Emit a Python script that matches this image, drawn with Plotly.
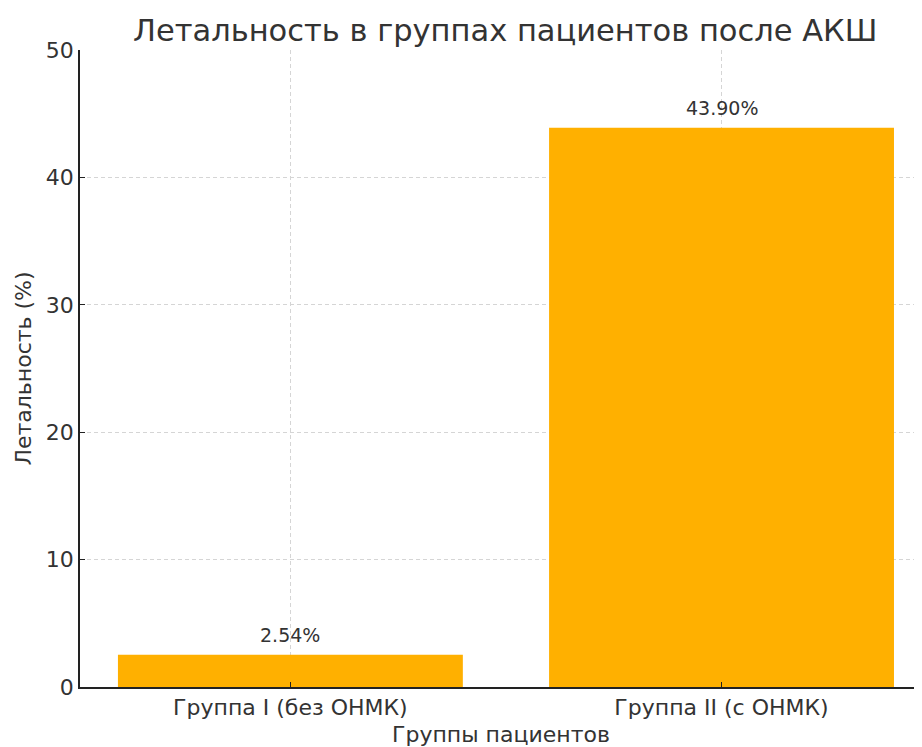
import plotly.graph_objects as go

categories = ["Группа I (без ОНМК)", "Группа II (с ОНМК)"]
mortality = [2.54, 43.90]
y_ticks = [0, 10, 20, 30, 40, 50]

x_pos = list(range(len(categories)))

fig = go.Figure()
fig.add_trace(go.Bar(
    x=x_pos, y=mortality, width=0.8,
    marker=dict(color="#FFB000", line=dict(width=0)),
    showlegend=False,
))
for xi, v in zip(x_pos, mortality):
    fig.add_annotation(x=xi, y=v, text=f"{v:.2f}%", showarrow=False,
                       yanchor="bottom", yshift=7,
                       font=dict(family="DejaVu Sans", size=19, color="#333333"))

fig.update_layout(
    width=914, height=739,
    paper_bgcolor="white", plot_bgcolor="white",
    margin=dict(l=72, r=0, t=42, b=60),
    font=dict(family="DejaVu Sans", color="#222222"),
    title=dict(text="Летальность в группах пациентов после АКШ",
               x=0.544, xanchor="center", y=0.970, yanchor="middle",
               font=dict(size=30.5, color="#333333")),
    bargap=0.2,
)
fig.update_xaxes(
    range=[-0.488, 1.465], tickvals=x_pos, ticktext=categories,
    showline=True, linecolor="#222222", linewidth=1.5,
    ticks="inside", ticklen=5, tickcolor="#222222",
    showgrid=True, gridcolor="#d5d5d5", griddash="4px,3px", gridwidth=1,
    tickfont=dict(size=22, color="#333333"),
    title=dict(text="Группы пациентов", font=dict(size=22, color="#333333"), standoff=10),
    zeroline=False,
)
fig.update_yaxes(
    range=[0, 50], tickvals=y_ticks,
    showline=True, linecolor="#222222", linewidth=1.5,
    ticks="inside", ticklen=5, tickcolor="#222222",
    showgrid=True, gridcolor="#d5d5d5", griddash="4px,3px", gridwidth=1,
    tickfont=dict(size=22, color="#333333"),
    title=dict(text="Летальность (%)", font=dict(size=22, color="#333333"), standoff=8),
    zeroline=False,
)

fig.write_html("out.html")
